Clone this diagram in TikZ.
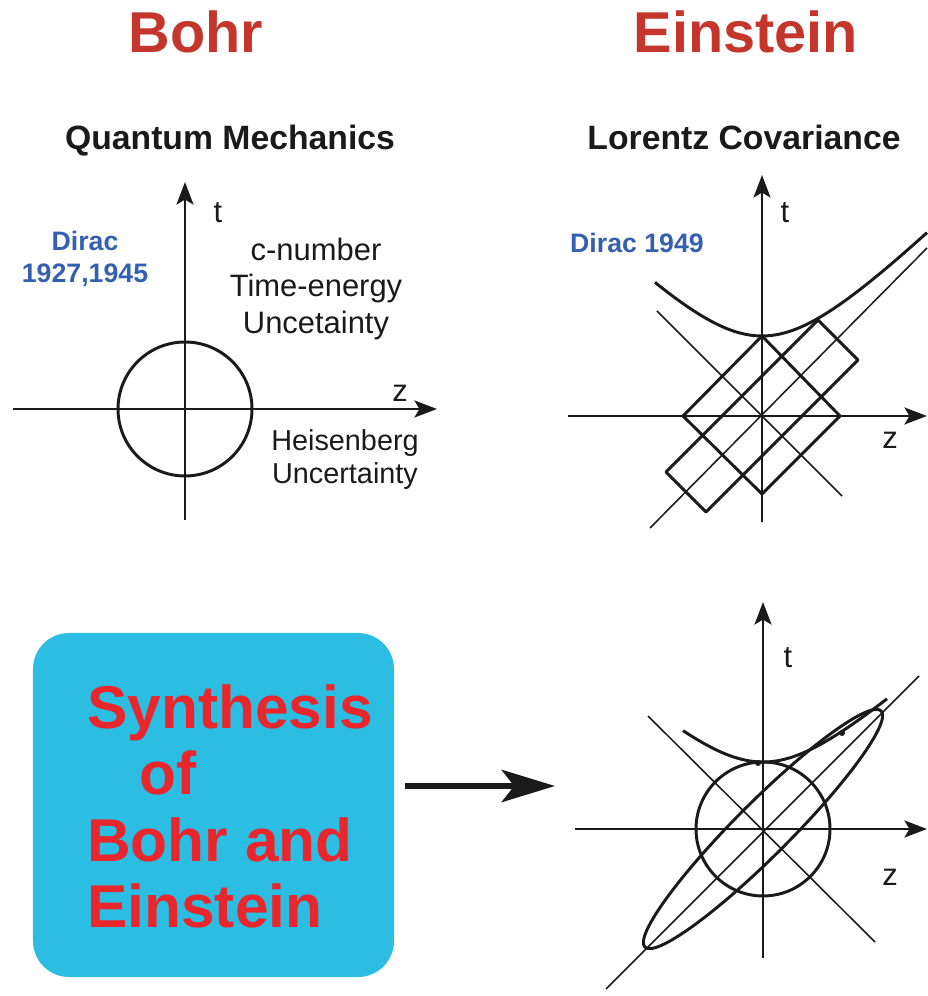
\documentclass[tikz,border=0pt]{standalone}
\usepackage{fontspec}
\setmainfont{Liberation Sans}
\usetikzlibrary{arrows.meta}
\definecolor{BohrRed}{HTML}{C4352B}
\definecolor{DiracBlue}{HTML}{3560B0}
\definecolor{SynthCyan}{HTML}{2CBDE3}
\definecolor{SynthRed}{HTML}{E8262C}
\definecolor{Ink}{HTML}{1A1A1A}

\begin{document}
\begin{tikzpicture}[x=0.25mm,y=0.25mm,
  heading/.style={font=\fontsize{41}{41}\selectfont\bfseries,text=BohrRed,anchor=base,inner sep=0pt},
  subheading/.style={font=\fontsize{24}{24}\selectfont\bfseries,text=Ink,anchor=base,inner sep=0pt},
  dirac/.style={font=\fontsize{19}{23}\selectfont\bfseries,text=DiracBlue,align=center,inner sep=0pt},
  note/.style={font=\fontsize{22}{26.3}\selectfont,text=Ink,align=center,inner sep=0pt},
  smallnote/.style={font=\fontsize{20.5}{23.5}\selectfont,text=Ink,align=center,inner sep=0pt},
  axlabel/.style={font=\fontsize{22}{22}\selectfont,text=Ink,inner sep=0pt},
  axisline/.style={-{Stealth[length=16pt,width=12pt,inset=3.5pt]},draw=Ink,line width=2.1pt},
  shapeline/.style={draw=Ink,line width=2.1pt,line join=round},
  coneline/.style={draw=Ink,line width=1.1pt},
  synthbox/.style={fill=SynthCyan,rounded corners=9mm,minimum width=90.25mm,minimum height=86mm,inner sep=0pt},
  synthtext/.style={font=\fontsize{43}{47.4}\selectfont\bfseries,text=SynthRed,align=left,inner sep=0pt},
  bigarr/.style={-{Stealth[length=38pt,width=23pt,inset=9pt]},draw=Ink,line width=3.8pt}
]
\useasboundingbox (0,0) rectangle (928,996);

% headings
\node[heading] (bohr) at (196,943) {Bohr};
\node[heading] (einstein) at (746,943) {Einstein};
\node[subheading] (qm) at (230,846) {Quantum Mechanics};
\node[subheading] (lorentz) at (744,846) {Lorentz Covariance};

% Bohr panel
\node[dirac] (dirac27) at (85,737) {Dirac\\1927,1945};
\node[note] (cnumber) at (316,707) {c-number\\Time-energy\\Uncetainty};
\node[smallnote] (heisenberg) at (345,536) {Heisenberg\\Uncertainty};
\begin{scope}[shift={(185,587)}]
  \draw[axisline] (-172,0) -- (252,0);
  \draw[axisline] (0,-111) -- (0,227);
  \draw[shapeline] (0,0) circle [radius=67];
  \node[axlabel] (tA) at (33,196) {t};
  \node[axlabel] (zA) at (215,16) {z};
\end{scope}

% Einstein panel
\node[dirac] (dirac49) at (637,753) {Dirac 1949};
\begin{scope}[shift={(762,580)}]
  \draw[coneline] (-112,-112) -- (165,168);
  \draw[coneline] (-105,105) -- (80,-80);
  \draw[axisline] (-194,0) -- (165,0);
  \draw[axisline] (0,-106) -- (0,241);
  \draw[shapeline] plot[domain=-107:165,samples=80] (\x,{10*sqrt(64+(\x/10)^2)});
  \draw[shapeline] (0,80) -- (78,0) -- (0,-78) -- (-79,0) -- cycle;
  \draw[shapeline] (56,96) -- (96,56) -- (-56,-96) -- (-96,-56) -- cycle;
  \node[axlabel] (tB) at (23,203) {t};
  \node[axlabel] (zB) at (128,-24) {z};
\end{scope}

% synthesis
\node[synthbox] (synth) at (213.5,191) {};
\node[synthtext,anchor=north west] (synthtxt) at (87,312) {Synthesis\\\hspace*{37pt}of\\Bohr and\\Einstein};
\coordinate (arrstart) at (405,210);
\coordinate (arrend) at (555,210);
\draw[bigarr] (arrstart) -- (arrend);

\begin{scope}[shift={(763,167)}]
  \draw[coneline] (-157,-160) -- (156,153);
  \draw[coneline] (-115,113) -- (112,-113);
  \draw[axisline] (-188,0) -- (164,0);
  \draw[axisline] (0,-129) -- (0,227);
  \draw[shapeline] (0,0) circle [radius=67];
  \draw[shapeline,rotate=45] (0,0) ellipse [x radius=167,y radius=27];
  \draw[shapeline] plot[domain=-80:124,samples=80] (\x,{10*sqrt(44.89+0.81*(\x/10)^2)});
  \fill[Ink] (-5,66) circle [radius=3];
  \fill[Ink] (79,96) circle [radius=3];
  \node[axlabel] (tC) at (25,171) {t};
  \node[axlabel] (zC) at (127,-48) {z};
\end{scope}
\end{tikzpicture}
\end{document}
